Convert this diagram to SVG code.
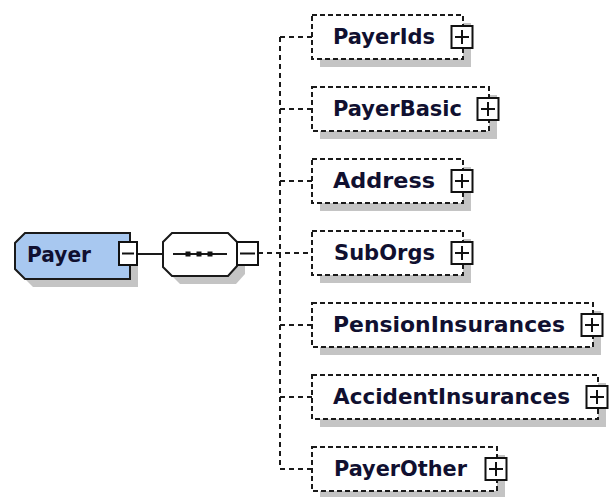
<svg xmlns="http://www.w3.org/2000/svg" width="610" height="497" viewBox="0 0 610 497">
<style>
.bg{fill:#ffffff}
.shadow{fill:#c4c4c4}
.elem{fill:#ffffff;stroke:#1a1a1a;stroke-width:2;stroke-dasharray:5 3}
.root{fill:#a8c8f0;stroke:#1a1a1a;stroke-width:2}
.seq{fill:#ffffff;stroke:#1a1a1a;stroke-width:2}
.btn{fill:#ffffff;stroke:#111111;stroke-width:2}
.sign{stroke:#111111;stroke-width:2;fill:none}
.lbl{font-family:"DejaVu Sans",Verdana,sans-serif;font-weight:bold;font-size:21px;fill:#101030}
.con{stroke:#1a1a1a;stroke-width:2;fill:none}
.dash{stroke-dasharray:5 4}
</style>
<rect class="bg" x="0" y="0" width="610" height="497"/>

<g id="connectors">
  <line class="con" x1="137" y1="254" x2="163" y2="254"/>
  <line class="con dash" x1="258" y1="253" x2="312" y2="253"/>
  <line class="con dash" x1="280" y1="37" x2="280" y2="469"/>
  <line class="con dash" x1="280" y1="37" x2="312" y2="37"/>
  <line class="con dash" x1="280" y1="109" x2="312" y2="109"/>
  <line class="con dash" x1="280" y1="181" x2="312" y2="181"/>
  <line class="con dash" x1="280" y1="325" x2="312" y2="325"/>
  <line class="con dash" x1="280" y1="397" x2="312" y2="397"/>
  <line class="con dash" x1="280" y1="469" x2="312" y2="469"/>
</g>

<g id="node-Payer">
  <polygon class="shadow" points="33,241 138,241 138,287 33,287 23,277 23,251"/>
  <polygon class="root" points="25,233 130,233 130,279 25,279 15,269 15,243"/>
  <text class="lbl" x="27" y="262" textLength="64" lengthAdjust="spacingAndGlyphs">Payer</text>
  <rect class="btn" x="119" y="242" width="18" height="23"/>
  <line class="sign" x1="122" y1="253.5" x2="134" y2="253.5"/>
</g>

<g id="node-sequence">
  <polygon class="shadow" points="180,241 236,241 245,250 245,274 236,284 180,284 171,275 171,250"/>
  <polygon class="seq" points="172,233 228,233 237,242 237,266 228,276 172,276 163,267 163,242"/>
  <line class="con" x1="173" y1="254" x2="227" y2="254"/>
  <rect x="185.5" y="251.5" width="5" height="5" fill="#111"/>
  <rect x="196.5" y="251.5" width="5" height="5" fill="#111"/>
  <rect x="207.5" y="251.5" width="5" height="5" fill="#111"/>
  <rect class="btn" x="237" y="242" width="21" height="23"/>
  <line class="sign" x1="240" y1="253.5" x2="255" y2="253.5"/>
</g>

<g id="node-PayerIds">
  <rect class="shadow" x="320" y="23" width="151" height="44"/>
  <rect class="elem" x="312" y="15" width="151" height="44"/>
  <text class="lbl" x="333" y="44" textLength="102" lengthAdjust="spacingAndGlyphs">PayerIds</text>
  <rect class="btn" x="451.5" y="26" width="21" height="22"/>
  <path class="sign" d="M455 37H469M462 30V44"/>
</g>

<g id="node-PayerBasic">
  <rect class="shadow" x="320" y="95" width="177" height="44"/>
  <rect class="elem" x="312" y="87" width="177" height="44"/>
  <text class="lbl" x="333" y="116" textLength="129" lengthAdjust="spacingAndGlyphs">PayerBasic</text>
  <rect class="btn" x="477.5" y="98" width="21" height="22"/>
  <path class="sign" d="M481 109H495M488 102V116"/>
</g>

<g id="node-Address">
  <rect class="shadow" x="320" y="167" width="151" height="44"/>
  <rect class="elem" x="312" y="159" width="151" height="44"/>
  <text class="lbl" x="333" y="188" textLength="102" lengthAdjust="spacingAndGlyphs">Address</text>
  <rect class="btn" x="451.5" y="170" width="21" height="22"/>
  <path class="sign" d="M455 181H469M462 174V188"/>
</g>

<g id="node-SubOrgs">
  <rect class="shadow" x="320" y="239" width="151" height="44"/>
  <rect class="elem" x="312" y="231" width="151" height="44"/>
  <text class="lbl" x="334" y="260" textLength="101" lengthAdjust="spacingAndGlyphs">SubOrgs</text>
  <rect class="btn" x="451.5" y="242" width="21" height="22"/>
  <path class="sign" d="M455 253H469M462 246V260"/>
</g>

<g id="node-PensionInsurances">
  <rect class="shadow" x="320" y="311" width="281" height="44"/>
  <rect class="elem" x="312" y="303" width="281" height="44"/>
  <text class="lbl" x="333" y="332" textLength="232" lengthAdjust="spacingAndGlyphs">PensionInsurances</text>
  <rect class="btn" x="581.5" y="314" width="21" height="22"/>
  <path class="sign" d="M585 325H599M592 318V332"/>
</g>

<g id="node-AccidentInsurances">
  <rect class="shadow" x="320" y="383" width="286" height="44"/>
  <rect class="elem" x="312" y="375" width="286" height="44"/>
  <text class="lbl" x="333" y="404" textLength="237" lengthAdjust="spacingAndGlyphs">AccidentInsurances</text>
  <rect class="btn" x="586.5" y="386" width="21" height="22"/>
  <path class="sign" d="M590 397H604M597 390V404"/>
</g>

<g id="node-PayerOther">
  <rect class="shadow" x="320" y="455" width="185" height="44"/>
  <rect class="elem" x="312" y="447" width="185" height="44"/>
  <text class="lbl" x="334" y="476" textLength="133" lengthAdjust="spacingAndGlyphs">PayerOther</text>
  <rect class="btn" x="485.5" y="458" width="21" height="22"/>
  <path class="sign" d="M489 469H503M496 462V476"/>
</g>
</svg>
